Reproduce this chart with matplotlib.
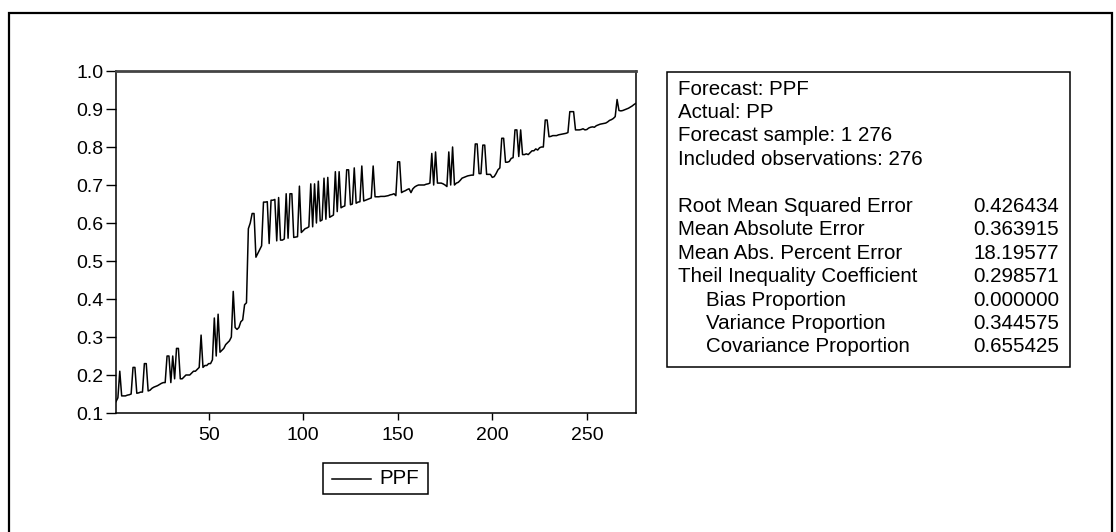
import matplotlib
matplotlib.use("Agg")
import matplotlib.pyplot as plt
from matplotlib.patches import Rectangle
from matplotlib.lines import Line2D

plt.rcParams['font.family'] = ['Liberation Sans', 'DejaVu Sans']

# ---- data: PPF forecast, observations 1..276 ----
ppf_001_026 = [0.13, 0.14, 0.21, 0.145, 0.145, 0.145, 0.147, 0.148, 0.15, 0.22,
               0.22, 0.152, 0.153, 0.155, 0.155, 0.23, 0.23, 0.158, 0.16, 0.165,
               0.168, 0.17, 0.172, 0.175, 0.178, 0.18]
ppf_027_052 = [0.18, 0.25, 0.25, 0.18, 0.25, 0.19, 0.27, 0.27, 0.19, 0.19,
               0.195, 0.2, 0.2, 0.2, 0.205, 0.21, 0.21, 0.215, 0.22, 0.305,
               0.22, 0.225, 0.225, 0.23, 0.23, 0.24]
ppf_053_078 = [0.35, 0.25, 0.36, 0.26, 0.265, 0.27, 0.28, 0.285, 0.29, 0.30,
               0.42, 0.325, 0.32, 0.325, 0.34, 0.345, 0.385, 0.39, 0.585, 0.60,
               0.625, 0.625, 0.51, 0.52, 0.53, 0.54]
ppf_079_104 = [0.655, 0.655, 0.656, 0.546, 0.66, 0.66, 0.662, 0.553, 0.667, 0.555,
               0.555, 0.558, 0.677, 0.56, 0.677, 0.677, 0.562, 0.563, 0.564, 0.697,
               0.575, 0.58, 0.585, 0.587, 0.59, 0.703]
ppf_105_130 = [0.59, 0.703, 0.60, 0.71, 0.605, 0.608, 0.718, 0.61, 0.72, 0.615,
               0.618, 0.621, 0.735, 0.63, 0.735, 0.64, 0.643, 0.645, 0.74, 0.74,
               0.648, 0.65, 0.745, 0.652, 0.655, 0.656]
ppf_131_156 = [0.75, 0.658, 0.66, 0.662, 0.664, 0.666, 0.75, 0.669, 0.669, 0.669,
               0.67, 0.67, 0.67, 0.671, 0.672, 0.674, 0.675, 0.677, 0.672, 0.761,
               0.761, 0.68, 0.683, 0.685, 0.688, 0.69]
ppf_157_182 = [0.68, 0.69, 0.695, 0.698, 0.70, 0.70, 0.70, 0.70, 0.702, 0.703,
               0.705, 0.783, 0.70, 0.787, 0.705, 0.705, 0.705, 0.703, 0.70, 0.696,
               0.787, 0.70, 0.80, 0.70, 0.705, 0.707]
ppf_183_208 = [0.712, 0.718, 0.72, 0.722, 0.724, 0.725, 0.726, 0.726, 0.808, 0.808,
               0.73, 0.73, 0.805, 0.805, 0.728, 0.728, 0.728, 0.72, 0.722, 0.73,
               0.74, 0.745, 0.823, 0.823, 0.76, 0.76]
ppf_209_234 = [0.762, 0.77, 0.772, 0.845, 0.845, 0.775, 0.845, 0.78, 0.78, 0.782,
               0.78, 0.785, 0.79, 0.79, 0.795, 0.792, 0.798, 0.80, 0.80, 0.871,
               0.871, 0.827, 0.828, 0.83, 0.83, 0.83]
ppf_235_260 = [0.832, 0.833, 0.834, 0.835, 0.836, 0.838, 0.893, 0.893, 0.893, 0.845,
               0.845, 0.845, 0.846, 0.848, 0.845, 0.846, 0.85, 0.852, 0.853, 0.852,
               0.856, 0.858, 0.86, 0.861, 0.862, 0.863]
ppf_261_276 = [0.866, 0.87, 0.872, 0.875, 0.88, 0.925, 0.896, 0.895, 0.896, 0.898,
               0.90, 0.902, 0.905, 0.908, 0.912, 0.915]

ppf = (ppf_001_026 + ppf_027_052 + ppf_053_078 + ppf_079_104 + ppf_105_130 +
       ppf_131_156 + ppf_157_182 + ppf_183_208 + ppf_209_234 + ppf_235_260 +
       ppf_261_276)
obs = list(range(1, len(ppf) + 1))

x_ticks = [50, 100, 150, 200, 250]
y_ticks = [0.1, 0.2, 0.3, 0.4, 0.5, 0.6, 0.7, 0.8, 0.9, 1.0]
y_ticklabels = ["0.1", "0.2", "0.3", "0.4", "0.5", "0.6", "0.7", "0.8", "0.9", "1.0"]

header_lines = ["Forecast: PPF", "Actual: PP", "Forecast sample: 1 276",
                "Included observations: 276"]
stat_labels = ["Root Mean Squared Error", "Mean Absolute Error",
               "Mean Abs. Percent Error", "Theil Inequality Coefficient",
               "Bias Proportion", "Variance Proportion", "Covariance Proportion"]
stat_values = ["0.426434", "0.363915", "18.19577", "0.298571",
               "0.000000", "0.344575", "0.655425"]
stat_indent = [False, False, False, False, True, True, True]
legend_label = "PPF"

# ---- figure ----
W, H = 1116, 532
fig = plt.figure(figsize=(W / 100, H / 100), dpi=100)
fig.patch.set_facecolor("white")

def fx(px):
    return px / W

def fy(py):
    return 1 - py / H

# outer frame (bottom edge lies below the image)
fig.add_artist(Rectangle((fx(9), fy(540)), fx(1112) - fx(9), fy(13) - fy(540),
                         transform=fig.transFigure, fill=False,
                         edgecolor="black", linewidth=1.6))

ax = fig.add_axes([fx(116), fy(413), fx(636) - fx(116), fy(71) - fy(413)])
ax.plot(obs, ppf, color="black", linewidth=1.1)
ax.set_xlim(1, len(ppf))
ax.set_ylim(0.1, 1.0)
ax.set_xticks(x_ticks)
ax.set_yticks(y_ticks)
ax.set_yticklabels(y_ticklabels)
ax.tick_params(axis="both", direction="out", labelsize=14, colors="black",
               width=1.0)
ax.tick_params(axis="y", length=7, pad=2)
ax.tick_params(axis="x", length=5, pad=5)
for sp in ax.spines.values():
    sp.set_linewidth(1.1)
    sp.set_color("black")
ax.spines["top"].set_color("#444444")
ax.spines["top"].set_linewidth(2.0)

# statistics box
fig.add_artist(Rectangle((fx(667), fy(367)), fx(1070) - fx(667), fy(72) - fy(367),
                         transform=fig.transFigure, fill=False,
                         edgecolor="black", linewidth=1.1))
fs = 14.8
y0 = 89
step = 23.4
for i, t in enumerate(header_lines):
    fig.text(fx(678), fy(y0 + i * step), t, fontsize=fs, ha="left", va="center")
for i, (lab, val, ind) in enumerate(zip(stat_labels, stat_values, stat_indent)):
    yy = 206.5 + i * step
    fig.text(fx(706 if ind else 678), fy(yy), lab, fontsize=fs, ha="left", va="center")
    fig.text(fx(1059), fy(yy), val, fontsize=fs, ha="right", va="center")

# legend
fig.add_artist(Rectangle((fx(323), fy(494)), fx(428) - fx(323), fy(463) - fy(494),
                         transform=fig.transFigure, fill=False,
                         edgecolor="black", linewidth=1.1))
fig.add_artist(Line2D([fx(332), fx(371)], [fy(479), fy(479)],
                      transform=fig.transFigure, color="black", linewidth=1.1))
fig.text(fx(379), fy(479), legend_label, fontsize=fs, ha="left", va="center")

fig.savefig("out.png", dpi=100)
